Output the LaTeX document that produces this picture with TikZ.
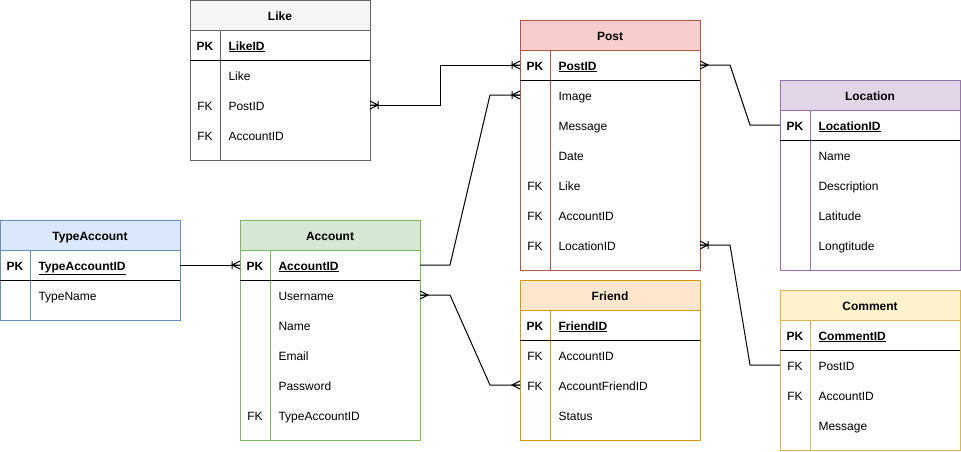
\documentclass[tikz,border=0pt]{standalone}
\usepackage{fontspec}
\setmainfont{Liberation Sans}

% table colours
\definecolor{likefill}{HTML}{F5F5F5}\definecolor{likeline}{HTML}{666666}
\definecolor{postfill}{HTML}{F8CECC}\definecolor{postline}{HTML}{B85450}
\definecolor{locationfill}{HTML}{E1D5E7}\definecolor{locationline}{HTML}{9673A6}
\definecolor{typefill}{HTML}{DAE8FC}\definecolor{typeline}{HTML}{6C8EBF}
\definecolor{accountfill}{HTML}{D5E8D4}\definecolor{accountline}{HTML}{82B366}
\definecolor{friendfill}{HTML}{FFE6CC}\definecolor{friendline}{HTML}{D79B00}
\definecolor{commentfill}{HTML}{FFF2CC}\definecolor{commentline}{HTML}{D6B656}

% crow's foot tips
\pgfarrowsdeclare{many}{many}
{\pgfarrowsleftextend{-8pt}\pgfarrowsrightextend{0pt}}
{\pgfsetdash{}{0pt}\pgfsetmiterjoin
 \pgfpathmoveto{\pgfpoint{0pt}{4pt}}\pgfpathlineto{\pgfpoint{-8pt}{0pt}}\pgfpathlineto{\pgfpoint{0pt}{-4pt}}
 \pgfpathmoveto{\pgfpoint{-8pt}{0pt}}\pgfpathlineto{\pgfpoint{0pt}{0pt}}
 \pgfusepathqstroke}
\pgfarrowsdeclare{onemany}{onemany}
{\pgfarrowsleftextend{-8pt}\pgfarrowsrightextend{0pt}}
{\pgfsetdash{}{0pt}\pgfsetmiterjoin
 \pgfpathmoveto{\pgfpoint{0pt}{4pt}}\pgfpathlineto{\pgfpoint{-8pt}{0pt}}\pgfpathlineto{\pgfpoint{0pt}{-4pt}}
 \pgfpathmoveto{\pgfpoint{-8pt}{0pt}}\pgfpathlineto{\pgfpoint{0pt}{0pt}}
 \pgfpathmoveto{\pgfpoint{-8pt}{4pt}}\pgfpathlineto{\pgfpoint{-8pt}{-4pt}}
 \pgfusepathqstroke}

\tikzset{
  tabhead/.style={draw, minimum width=180pt, minimum height=30pt, inner sep=0pt, outer sep=0pt, text height=10pt, text depth=0pt, font=\bfseries},
  rowbox/.style={minimum width=180pt, minimum height=30pt, inner sep=0pt, outer sep=0pt},
  keytext/.style={inner sep=0pt, text height=10pt, text depth=0pt},
  fieldtext/.style={inner sep=0pt, text height=10pt, text depth=0pt, anchor=west},
  rel/.style={draw=black, line width=1pt}
}

% name, x, y, title, colour, rows with PK, PK field, other rows
\newcommand{\erdtable}[8]{%
  \draw[#5line, fill=white] (#2,#3) rectangle ++(180,30*#6+40);
  \node[tabhead, fill=#5fill, draw=#5line] (#1) at (#2+90,#3+15) {#4};
  \draw[#5line] (#2+30,#3+30) -- ++(0,30*#6+10);
  \node[rowbox] (#1-pk) at (#2+90,#3+45) {};
  \node[keytext, font=\bfseries] (#1-pk-k) at (#2+15,#3+45) {PK};
  \node[fieldtext, font=\bfseries] (#1-pk-f) at (#2+38,#3+45) {\underline{#7}};
  \draw[black] (#2,#3+60) -- ++(180,0);
  \foreach \k/\f/\n [count=\i] in {#8} {
    \node[rowbox] (#1-\n) at (#2+90,#3+45+30*\i) {};
    \node[keytext] (#1-\n-k) at (#2+15,#3+45+30*\i) {\k};
    \node[fieldtext] (#1-\n-f) at (#2+38,#3+45+30*\i) {\f};
  }%
}

\begin{document}
\fontsize{12}{14}\selectfont
\begin{tikzpicture}[x=1pt,y=-1pt,line width=1pt]
\useasboundingbox (0,0) rectangle (961,451);

\erdtable{like}{190}{0}{Like}{like}{4}{LikeID}{{}/Like/like, FK/PostID/postid, FK/AccountID/accountid}
\erdtable{post}{520}{20}{Post}{post}{7}{PostID}{{}/Image/image, {}/Message/message, {}/Date/date, FK/Like/like, FK/AccountID/accountid, FK/LocationID/locationid}
\erdtable{location}{780}{80}{Location}{location}{5}{LocationID}{{}/Name/name, {}/Description/description, {}/Latitude/latitude, {}/Longtitude/longtitude}
\erdtable{typeaccount}{0}{220}{TypeAccount}{type}{2}{TypeAccountID}{{}/TypeName/typename}
\erdtable{account}{240}{220}{Account}{account}{6}{AccountID}{{}/Username/username, {}/Name/name, {}/Email/email, {}/Password/password, FK/TypeAccountID/typeaccountid}
\erdtable{friend}{520}{280}{Friend}{friend}{4}{FriendID}{FK/AccountID/accountid, FK/AccountFriendID/accountfriendid, {}/Status/status}
\erdtable{comment}{780}{290}{Comment}{comment}{4}{CommentID}{FK/PostID/postid, FK/AccountID/accountid, {}/Message/message}

% relations
\draw[rel, onemany-onemany] (like-postid.east) -- ++(70,0) |- (post-pk.west);
\draw[rel, -onemany] (account-pk.east) -- ++(30,0) -- ([xshift=-30pt]post-image.west) -- (post-image.west);
\draw[rel, -onemany] (typeaccount-pk.east) -- (account-pk.west);
\draw[rel, many-many] (account-username.east) -- ++(30,0) -- ([xshift=-30pt]friend-accountfriendid.west) -- (friend-accountfriendid.west);
\draw[rel, many-] (post-pk.east) -- ++(30,0) -- ([xshift=-30pt]location-pk.west) -- (location-pk.west);
\draw[rel, onemany-] (post-locationid.east) -- ++(30,0) -- ([xshift=-30pt]comment-postid.west) -- (comment-postid.west);
\end{tikzpicture}
\end{document}
